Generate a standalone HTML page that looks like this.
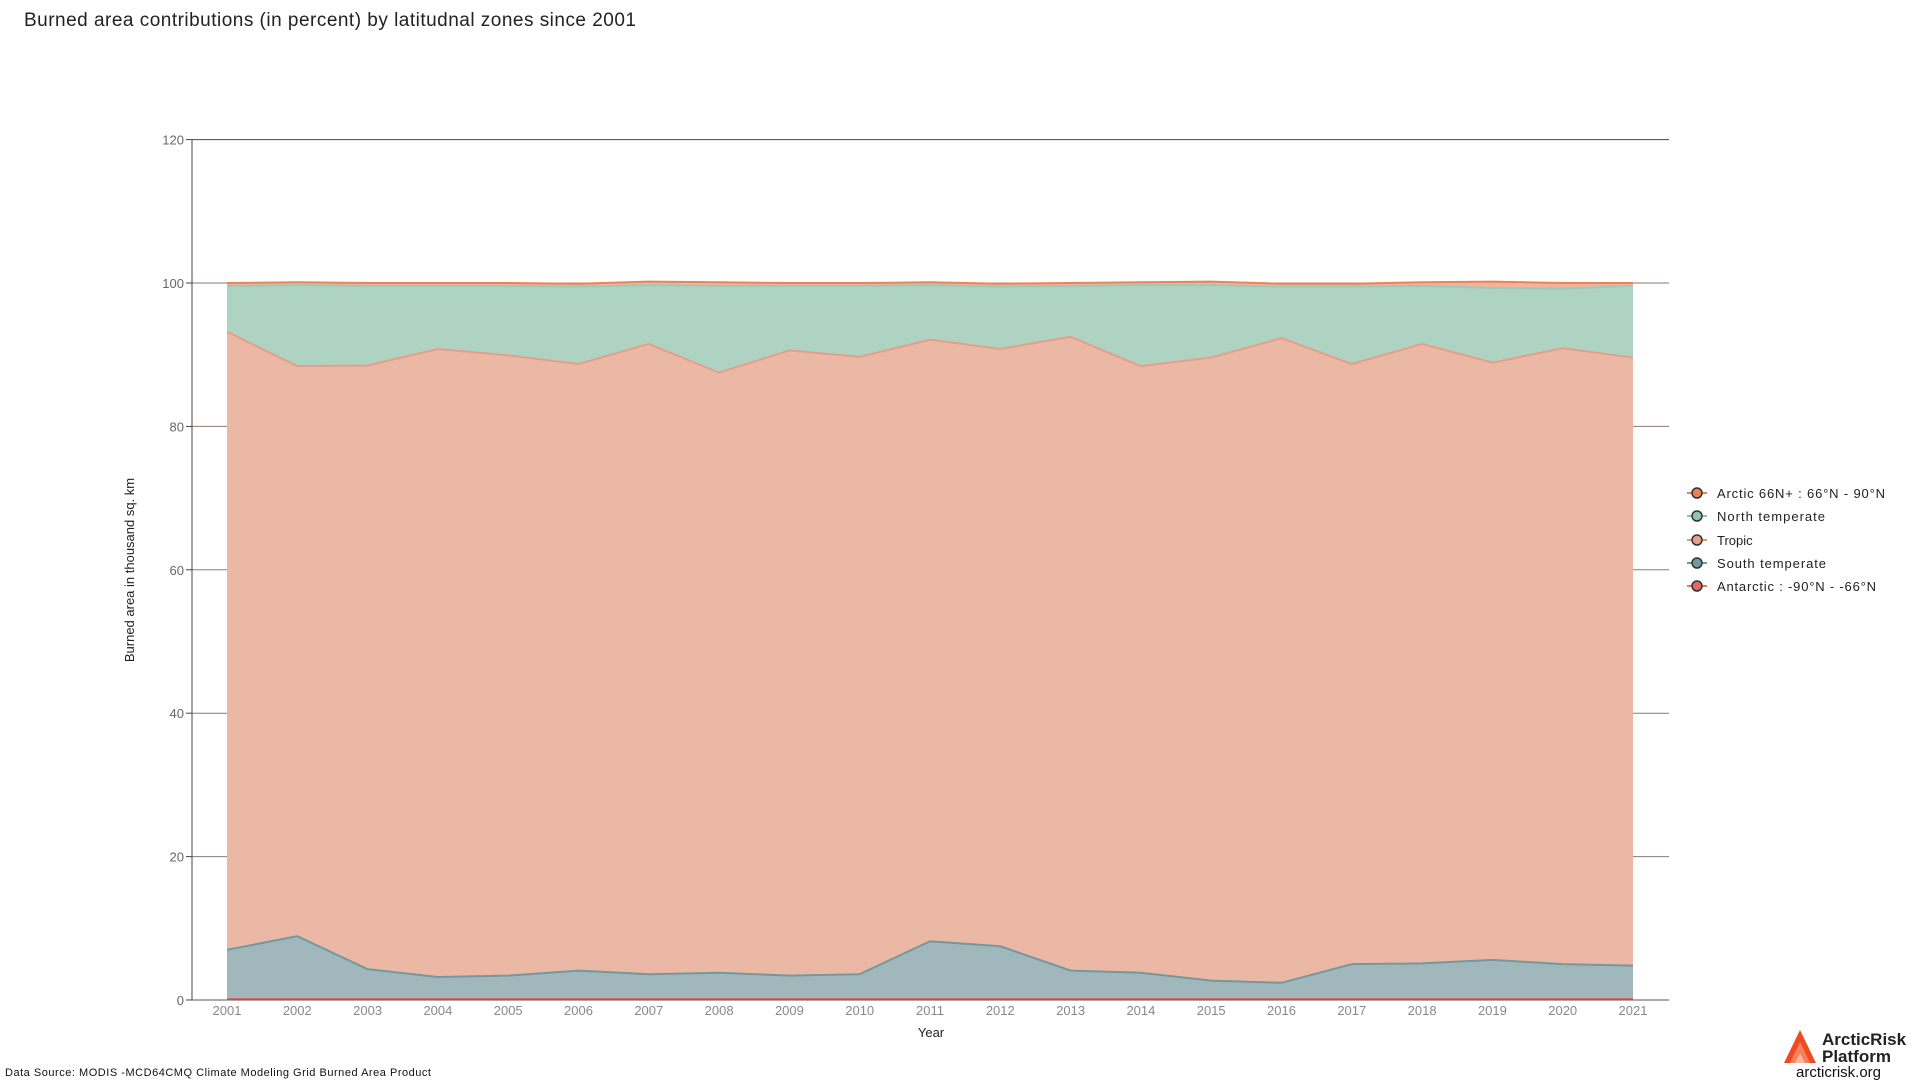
<!DOCTYPE html>
<html><head><meta charset="utf-8"><style>
body{margin:0;background:#fff;width:1920px;height:1080px;overflow:hidden;font-family:"Liberation Sans",sans-serif;}
</style></head><body>
<svg id="s" width="1920" height="1080" xmlns="http://www.w3.org/2000/svg" font-family="Liberation Sans, sans-serif">
<text x="24" y="26" font-size="19" fill="#222" textLength="612" lengthAdjust="spacing">Burned area contributions (in percent) by latitudnal zones since 2001</text>
<g id="grid"></g>
<g id="areas"></g>
<g id="axes"></g>
<text x="134" y="570" font-size="13" fill="#222" text-anchor="middle" transform="rotate(-90 134 570)">Burned area in thousand sq. km</text>
<text x="931" y="1037" font-size="13" fill="#222" text-anchor="middle">Year</text>
<text x="5" y="1076" font-size="11" fill="#111" textLength="426" lengthAdjust="spacing">Data Source: MODIS -MCD64CMQ Climate Modeling Grid Burned Area Product</text>
<g font-size="13" fill="#222">
<line x1="1687" y1="493" x2="1707" y2="493" stroke="#e8845a" stroke-width="2"/><circle cx="1697" cy="493" r="5" fill="#e8804f" stroke="#333" stroke-width="1.5"/><text x="1717" y="498" textLength="168" lengthAdjust="spacing">Arctic 66N+ : 66°N - 90°N</text>
<line x1="1687" y1="516" x2="1707" y2="516" stroke="#8cc7ad" stroke-width="2"/><circle cx="1697" cy="516" r="5" fill="#8cc7ad" stroke="#333" stroke-width="1.5"/><text x="1717" y="521" textLength="108" lengthAdjust="spacing">North temperate</text>
<line x1="1687" y1="540" x2="1707" y2="540" stroke="#e89a80" stroke-width="2"/><circle cx="1697" cy="540" r="5" fill="#e4a08a" stroke="#333" stroke-width="1.5"/><text x="1717" y="545">Tropic</text>
<line x1="1687" y1="563" x2="1707" y2="563" stroke="#6e9aa0" stroke-width="2"/><circle cx="1697" cy="563" r="5" fill="#6e9aa0" stroke="#333" stroke-width="1.5"/><text x="1717" y="568" textLength="109" lengthAdjust="spacing">South temperate</text>
<line x1="1687" y1="586" x2="1707" y2="586" stroke="#e87870" stroke-width="2"/><circle cx="1697" cy="586" r="5" fill="#e06a62" stroke="#333" stroke-width="1.5"/><text x="1717" y="591" textLength="159" lengthAdjust="spacing">Antarctic : -90°N - -66°N</text>
</g>
<g>
<polygon points="1784,1063 1800,1030 1816,1063" fill="#f04a22"/>
<polygon points="1790,1063 1800,1042 1810,1063" fill="#f6805e"/>
<polygon points="1795,1063 1800,1053 1805,1063" fill="#fbb59e"/>
<text x="1822" y="1045" font-size="17" font-weight="bold" fill="#222">ArcticRisk</text>
<text x="1822" y="1062" font-size="17" font-weight="bold" fill="#222">Platform</text>
<text x="1796" y="1077" font-size="15" fill="#111">arcticrisk.org</text>
</g>
</svg>
<script>
var NS="http://www.w3.org/2000/svg";
function el(p,t,a){var e=document.createElementNS(NS,t);for(var k in a)e.setAttribute(k,a[k]);p.appendChild(e);return e;}
var X=function(i){return 227+i*70.3},Y=function(v){return 1000-v*7.17};
var st=[7.0,8.9,4.3,3.2,3.4,4.1,3.6,3.8,3.4,3.6,8.2,7.5,4.1,3.8,2.7,2.4,5.0,5.1,5.6,5.0,4.8];
var tr=[93.2,88.4,88.5,90.8,89.9,88.7,91.5,87.5,90.6,89.7,92.1,90.8,92.5,88.4,89.6,92.3,88.7,91.5,88.9,90.9,89.6];
var nt=[99.6,99.7,99.6,99.6,99.6,99.5,99.7,99.6,99.6,99.6,99.7,99.5,99.6,99.7,99.7,99.5,99.5,99.6,99.3,99.2,99.6];
var ar=[100,100.1,100,100,100,99.9,100.2,100.1,100,100,100.1,99.9,100,100.1,100.2,99.9,99.9,100.1,100.2,100,100];
var g=document.getElementById('grid'),a=document.getElementById('areas'),ax=document.getElementById('axes');
for(var v=0;v<=120;v+=20){el(g,'line',{x1:192,x2:1669,y1:Y(v),y2:Y(v),stroke:v==120?'#444':'#8a7a76','stroke-width':1});
var t=el(ax,'text',{x:184,y:Y(v)+5,'font-size':13,fill:'#666','text-anchor':'end'});t.textContent=v;
el(ax,'line',{x1:186,x2:192,y1:Y(v),y2:Y(v),stroke:'#444'});}
function area(top,bot,fill,stroke){var p='';for(var i=0;i<21;i++)p+=X(i)+','+Y(top[i])+' ';for(var i=20;i>=0;i--)p+=X(i)+','+Y(bot?bot[i]:0)+' ';
el(a,'polygon',{points:p,fill:fill});var l='';for(var i=0;i<21;i++)l+=X(i)+','+Y(top[i])+' ';el(a,'polyline',{points:l,fill:'none',stroke:stroke,'stroke-width':2});}
area(ar,nt,'#f0b49c','#e8845a');
area(nt,tr,'#afd3c3','#9dcab6');
area(tr,st,'#ecb8a6','#e59f88');
area(st,null,'#a0b8bb','#74989d');
el(a,'line',{x1:227,x2:1633,y1:999,y2:999,stroke:'#e06a62','stroke-width':2});
el(ax,'line',{x1:192,x2:192,y1:140,y2:1000,stroke:'#444'});
el(ax,'line',{x1:192,x2:1669,y1:1000,y2:1000,stroke:'#555'});
for(var i=0;i<21;i++){var t=el(ax,'text',{x:X(i),y:1015,'font-size':13,fill:'#888','text-anchor':'middle'});t.textContent=2001+i;}
</script>
</body></html>
